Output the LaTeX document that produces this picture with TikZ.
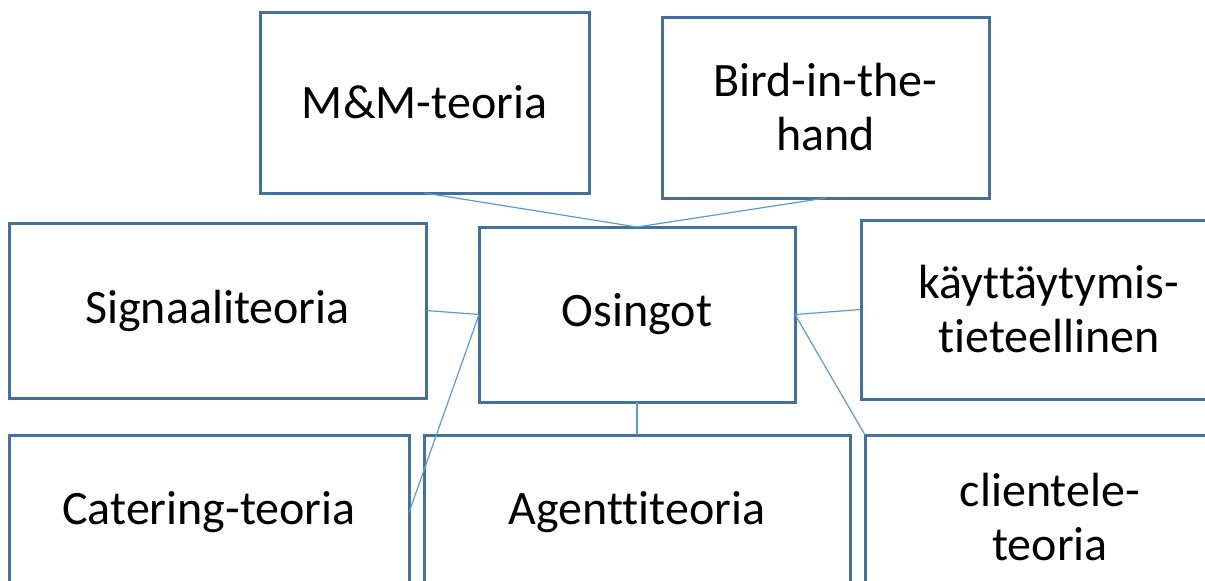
\documentclass[tikz,border=0pt]{standalone}
\usepackage{fontspec}
\setmainfont{Carlito}[Ligatures=NoCommon]
\definecolor{boxblue}{HTML}{41719C}
\definecolor{lineblue}{HTML}{5B9BD5}
\begin{document}
\begin{tikzpicture}[x=1pt,y=-1pt,
  box/.style={draw=boxblue,line width=3pt,rectangle,inner sep=0pt,outer sep=0pt,
    align=center,font=\fontsize{48}{54}\selectfont},
  link/.style={draw=lineblue,line width=1.2pt}]
\useasboundingbox (0,0) rectangle (1205,581);
\clip (0,0) rectangle (1205,581);
\node[box,minimum width=329pt,minimum height=181pt] (mm) at (424.5,102.5) {M\&M-teoria};
\node[box,minimum width=327pt,minimum height=181pt] (bird) at (825.5,107.5) {Bird-in-the-\\hand};
\node[box,minimum width=417pt,minimum height=175pt] (sig) at (217.5,310.5) {Signaaliteoria};
\node[box,minimum width=316pt,minimum height=175pt] (os) at (637,314.5) {Osingot};
\node[box,minimum width=376pt,minimum height=179pt] (kay) at (1049,309.5) {käyttäytymis-\\tieteellinen};
\node[box,minimum width=400pt,minimum height=155pt] (cat) at (209,512.5) {Catering-teoria};
\node[box,minimum width=426pt,minimum height=155pt] (agent) at (637,512.5) {Agenttiteoria};
\node[box,minimum width=370pt,minimum height=165pt] (cli) at (1050,517.5) {clientele-\\teoria};
\draw[link] (mm.south) -- (os.north);
\draw[link] (bird.south) -- (os.north);
\draw[link] (sig.east) -- (os.west);
\draw[link] (cat.east) -- (os.west);
\draw[link] (agent.north) -- (os.south);
\draw[link] (kay.west) -- (os.east);
\draw[link] (cli.north west) -- (os.east);
\end{tikzpicture}
\end{document}
